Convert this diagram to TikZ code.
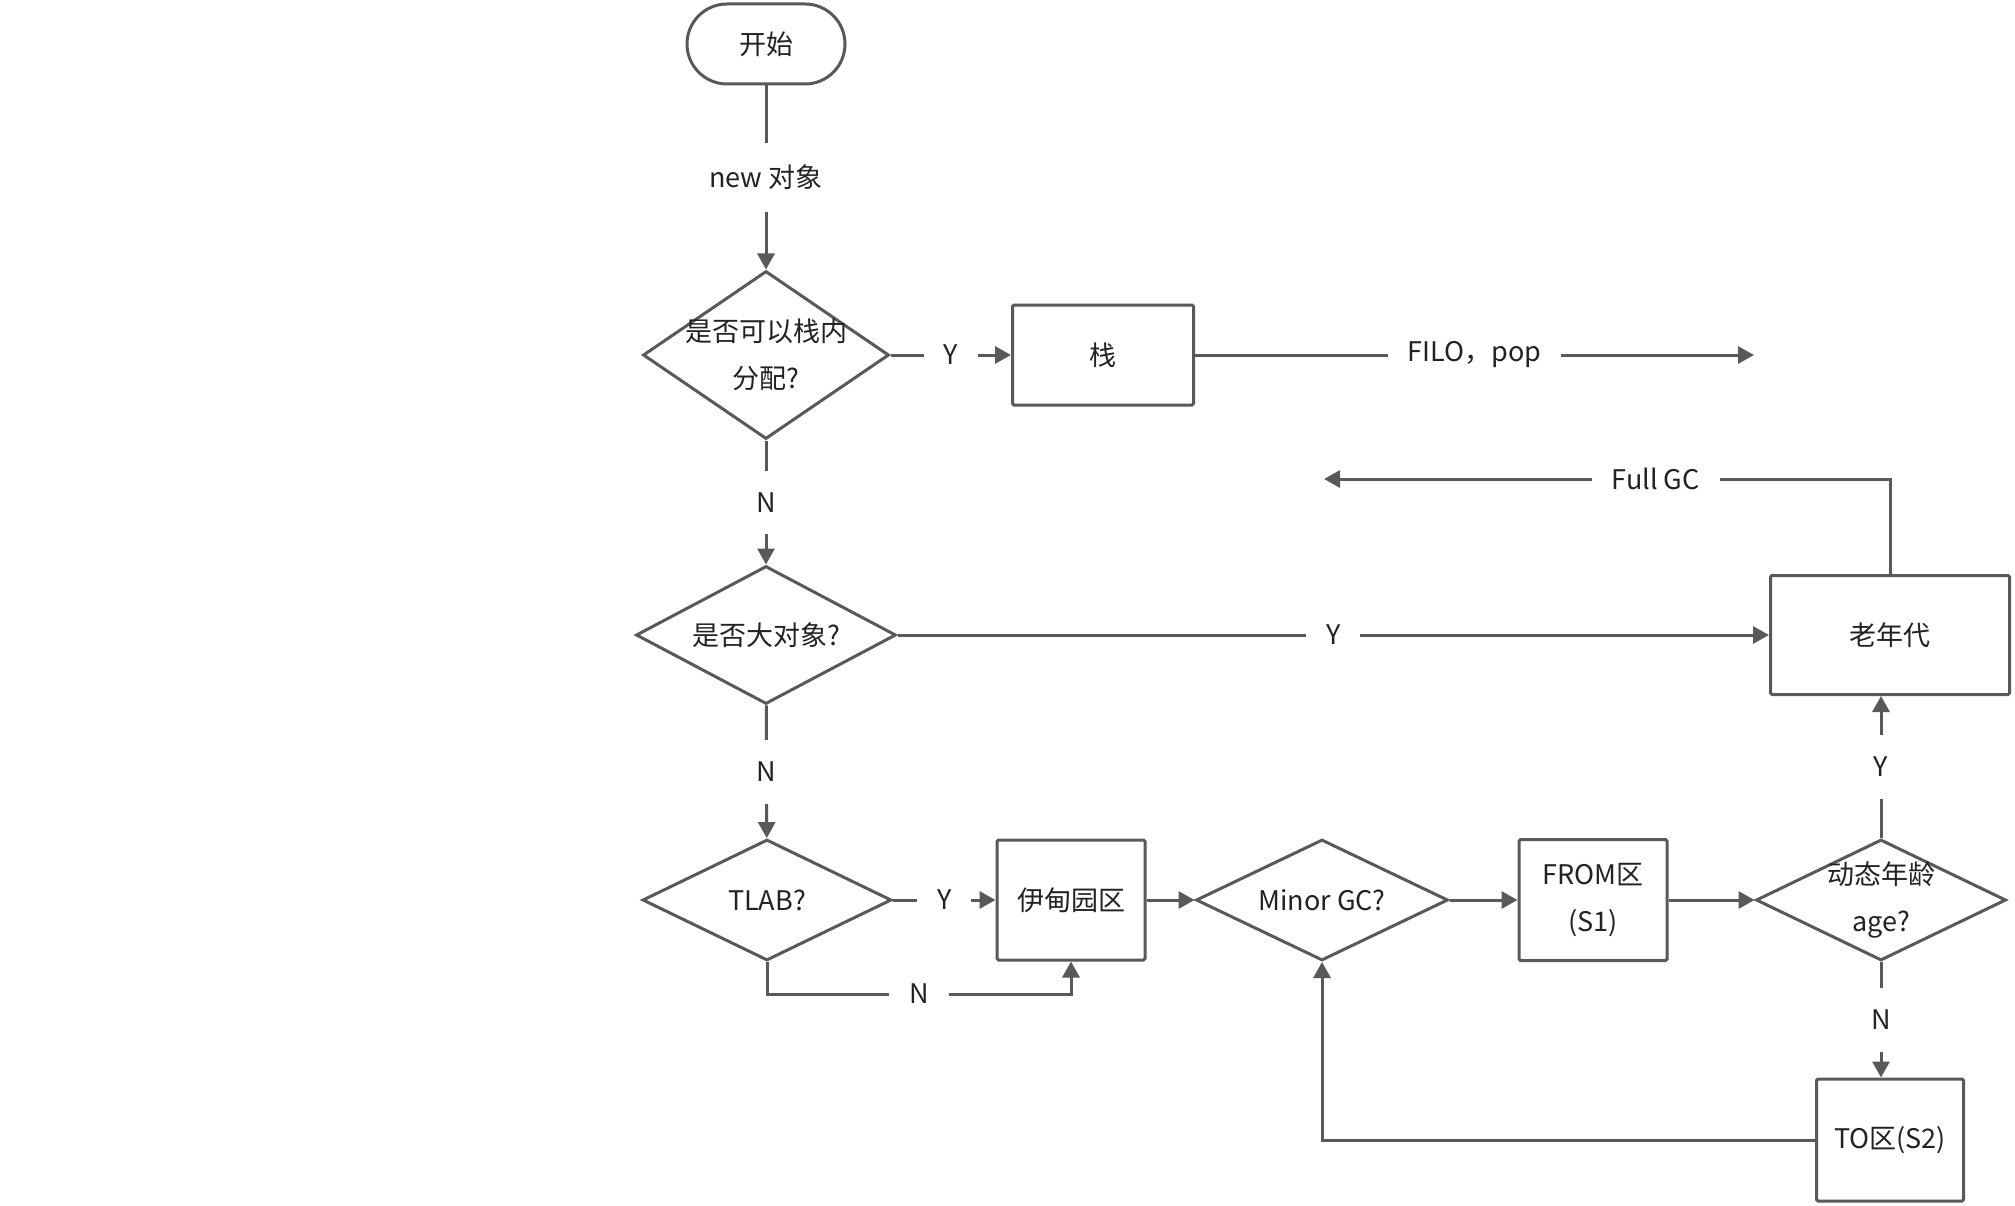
\documentclass[tikz,border=0pt]{standalone}
\usepackage{fontspec}
\setmainfont{Noto Sans CJK SC}
\usetikzlibrary{shapes.geometric,arrows.meta}
\definecolor{ln}{HTML}{595959}
\definecolor{tx}{HTML}{222222}
\begin{document}
\begin{tikzpicture}[x=1pt,y=-1pt,
  every node/.style={font=\fontsize{27}{47}\selectfont, text=tx},
  shp/.style={draw=ln, line width=3pt, inner sep=0pt, align=center},
  box/.style={shp, rectangle, rounded corners=1.5pt},
  dec/.style={shp, diamond},
  term/.style={shp, rectangle, rounded corners=40pt},
  conn/.style={draw=ln, line width=3pt},
  arr/.style={conn, -{Triangle[length=16pt,width=17pt]}},
  lbl/.style={fill=white, inner xsep=20pt, inner ysep=22pt}]
\fill[white] (0,0) rectangle (2015,1206);
\useasboundingbox (0,0) rectangle (2015,1206);

% nodes
\node[term, minimum width=158pt, minimum height=80pt] (start) at (766,44) {开始};
\node[dec, minimum width=246pt, minimum height=168pt,
      label={[align=center]center:是否可以栈内\\分配?}] (d1) at (766,355) {};
\node[box, minimum width=181pt, minimum height=100pt] (stack) at (1103,355) {栈};
\coordinate (pop) at (1754,355);
\node[dec, minimum width=260pt, minimum height=138pt,
      label={[align=center]center:是否大对象?}] (d2) at (766,635) {};
\node[box, minimum width=239pt, minimum height=119pt] (old) at (1890,635) {老年代};
\coordinate (fgc) at (1324,479);
\node[dec, minimum width=249pt, minimum height=121pt,
      label={[align=center]center:TLAB?}] (tlab) at (767,900) {};
\node[box, minimum width=148pt, minimum height=120pt] (eden) at (1071,900) {伊甸园区};
\node[dec, minimum width=252pt, minimum height=121pt,
      label={[align=center]center:Minor GC?}] (minor) at (1322,900) {};
\node[box, minimum width=148pt, minimum height=121pt] (from) at (1593,900) {FROM区\\(S1)};
\node[dec, minimum width=250pt, minimum height=121pt,
      label={[align=center]center:动态年龄\\age?}] (age) at (1881,900) {};
\node[box, minimum width=147pt, minimum height=122pt] (to) at (1890,1140) {TO区(S2)};

% connectors
\draw[arr] (start) -- node[lbl]{new 对象} (d1);
\draw[arr] (d1) -- node[lbl]{Y} (stack);
\draw[arr] (stack) -- node[lbl]{FILO，pop} (pop);
\draw[arr] (old.north) |- node[lbl,pos=0.707]{Full GC} (fgc);
\draw[arr] (d1) -- node[lbl]{N} (d2);
\draw[arr] (d2) -- node[lbl]{Y} (old);
\draw[arr] (d2) -- node[lbl]{N} (tlab);
\draw[arr] (tlab) -- node[lbl]{Y} (eden);
\draw[arr] (tlab.south) -- ++(0,32) -| node[lbl,pos=0.25]{N} (eden.south);
\draw[arr] (eden) -- (minor);
\draw[arr] (minor) -- (from);
\draw[arr] (from) -- (age);
\draw[arr] (age.north) -- node[lbl]{Y} (age.north |- old.south);
\draw[arr] (age.south) -- node[lbl]{N} (age.south |- to.north);
\draw[arr] (to.west) -| (minor.south);
\end{tikzpicture}
\end{document}
